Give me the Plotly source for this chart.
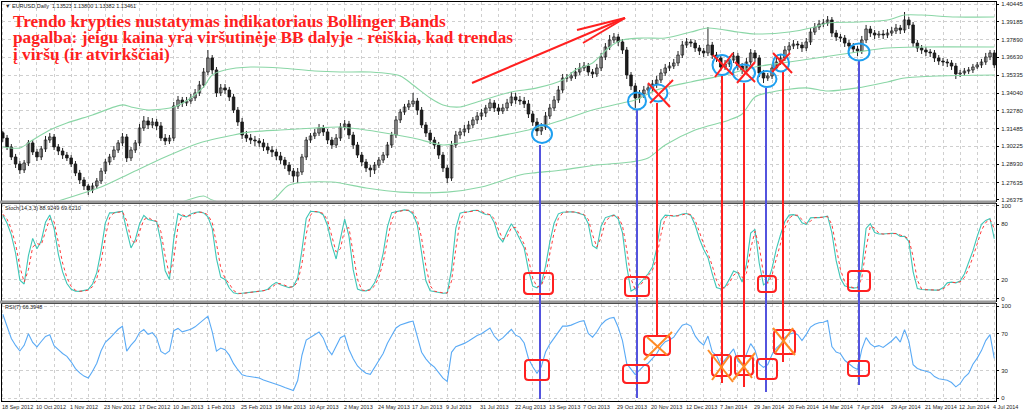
import numpy as np
import pandas as pd
import plotly.graph_objects as go

W, H = 1024, 413

# ---------------- data (2-trading-day bars, EURUSD) ----------------
DATE_LABELS = ["18 Sep 2012", "10 Oct 2012", "1 Nov 2012", "23 Nov 2012", "17 Dec 2012",
               "10 Jan 2013", "1 Feb 2013", "25 Feb 2013", "19 Mar 2013", "10 Apr 2013",
               "2 May 2013", "24 May 2013", "17 Jun 2013", "9 Jul 2013", "31 Jul 2013",
               "22 Aug 2013", "13 Sep 2013", "7 Oct 2013", "29 Oct 2013", "20 Nov 2013",
               "12 Dec 2013", "7 Jan 2014", "29 Jan 2014", "20 Feb 2014", "14 Mar 2014",
               "7 Apr 2014", "29 Apr 2014", "21 May 2014", "12 Jun 2014", "4 Jul 2014"]
BARS_PER_LABEL = 8

PRICE_TICKS = [1.40445, 1.39185, 1.37890, 1.36630, 1.35335, 1.34040,
               1.32780, 1.31485, 1.30225, 1.28930, 1.27635, 1.26375]
STOCH_TICKS = [0, 20, 80, 100]
RSI_TICKS = [0, 30, 70, 100]

# warm-up bars before the visible window (needed by the oscillators)
PRE_OPEN = 1.2560
PRE_CLOSE = [1.2530, 1.2580, 1.2600, 1.2800, 1.2860, 1.2950, 1.3120]
PRE_HIGH = [1.2570, 1.2620, 1.2640, 1.2820, 1.2900, 1.3000, 1.3170]
PRE_LOW = [1.2480, 1.2520, 1.2560, 1.2590, 1.2780, 1.2850, 1.2940]

CLOSE = [
    1.3082, 1.3018, 1.2946, 1.2896, 1.2853, 1.2903, 1.3047, 1.2982, 1.2946, 1.3004,
    1.3068, 1.3090, 1.3018, 1.2989, 1.2960, 1.2939, 1.2896, 1.2831, 1.2781, 1.2738,
    1.2709, 1.2738, 1.2774, 1.2845, 1.2910, 1.2946, 1.2996, 1.3047, 1.3090, 1.2939,
    1.2996, 1.3047, 1.3154, 1.3205, 1.3176, 1.3197, 1.3169, 1.3082, 1.3061, 1.3082,
    1.3312, 1.3355, 1.3334, 1.3348, 1.3370, 1.3406, 1.3463, 1.3556, 1.3657, 1.3571,
    1.3406, 1.3442, 1.3427, 1.3377, 1.3283, 1.3197, 1.3104, 1.3082, 1.3068, 1.3061,
    1.3047, 1.3018, 1.2996, 1.2982, 1.2953, 1.2924, 1.2888, 1.2845, 1.2809, 1.2838,
    1.2946, 1.3068, 1.3097, 1.3118, 1.3154, 1.3126, 1.3068, 1.3032, 1.3082, 1.3161,
    1.3183, 1.3104, 1.3032, 1.2960, 1.2910, 1.2867, 1.2853, 1.2888, 1.2924, 1.2960,
    1.3032, 1.3104, 1.3212, 1.3269, 1.3305, 1.3327, 1.3348, 1.3283, 1.3176, 1.3118,
    1.3068, 1.3032, 1.2960, 1.2867, 1.2795, 1.3032, 1.3104, 1.3126, 1.3147, 1.3176,
    1.3212, 1.3240, 1.3262, 1.3298, 1.3334, 1.3298, 1.3276, 1.3298, 1.3334, 1.3377,
    1.3355, 1.3348, 1.3327, 1.3255, 1.3197, 1.3133, 1.3161, 1.3240, 1.3298, 1.3355,
    1.3427, 1.3513, 1.3513, 1.3528, 1.3556, 1.3585, 1.3599, 1.3556, 1.3542, 1.3585,
    1.3664, 1.3736, 1.3786, 1.3808, 1.3772, 1.3714, 1.3535, 1.3456, 1.3370, 1.3399,
    1.3427, 1.3442, 1.3470, 1.3499, 1.3549, 1.3585, 1.3599, 1.3621, 1.3678, 1.3750,
    1.3772, 1.3764, 1.3729, 1.3707, 1.3693, 1.3750, 1.3678, 1.3657, 1.3592, 1.3614,
    1.3642, 1.3671, 1.3599, 1.3571, 1.3628, 1.3693, 1.3657, 1.3549, 1.3513, 1.3528,
    1.3585, 1.3628, 1.3657, 1.3714, 1.3743, 1.3757, 1.3750, 1.3729, 1.3772, 1.3843,
    1.3879, 1.3901, 1.3908, 1.3930, 1.3836, 1.3808, 1.3800, 1.3764, 1.3743, 1.3721,
    1.3707, 1.3786, 1.3865, 1.3836, 1.3822, 1.3829, 1.3822, 1.3836, 1.3851, 1.3872,
    1.3858, 1.3930, 1.3894, 1.3764, 1.3729, 1.3714, 1.3700, 1.3693, 1.3657, 1.3635,
    1.3628, 1.3621, 1.3599, 1.3542, 1.3549, 1.3563, 1.3571, 1.3592, 1.3607, 1.3628,
    1.3664, 1.3693, 1.3607]

HIGH = [
    1.3133, 1.3104, 1.3039, 1.2968, 1.2917, 1.2924, 1.3068, 1.3068, 1.3004, 1.3025,
    1.3097, 1.3118, 1.3111, 1.3039, 1.3011, 1.2982, 1.2960, 1.2917, 1.2853, 1.2802,
    1.2752, 1.2759, 1.2795, 1.2867, 1.2932, 1.2968, 1.3025, 1.3068, 1.3118, 1.3111,
    1.3018, 1.3068, 1.3183, 1.3240, 1.3233, 1.3226, 1.3219, 1.3197, 1.3111, 1.3104,
    1.3341, 1.3384, 1.3377, 1.3377, 1.3399, 1.3434, 1.3492, 1.3585, 1.3714, 1.3678,
    1.3592, 1.3470, 1.3470, 1.3449, 1.3399, 1.3305, 1.3226, 1.3133, 1.3111, 1.3097,
    1.3082, 1.3075, 1.3047, 1.3025, 1.3004, 1.2982, 1.2946, 1.2910, 1.2867, 1.2867,
    1.2968, 1.3090, 1.3118, 1.3147, 1.3183, 1.3176, 1.3147, 1.3090, 1.3111, 1.3190,
    1.3212, 1.3205, 1.3126, 1.3054, 1.2982, 1.2932, 1.2888, 1.2910, 1.2946, 1.2982,
    1.3054, 1.3126, 1.3240, 1.3291, 1.3327, 1.3355, 1.3406, 1.3370, 1.3305, 1.3197,
    1.3140, 1.3090, 1.3054, 1.2982, 1.2888, 1.3061, 1.3133, 1.3154, 1.3176, 1.3205,
    1.3233, 1.3269, 1.3291, 1.3320, 1.3363, 1.3355, 1.3327, 1.3327, 1.3363, 1.3413,
    1.3406, 1.3384, 1.3377, 1.3355, 1.3276, 1.3226, 1.3190, 1.3269, 1.3327, 1.3384,
    1.3456, 1.3542, 1.3542, 1.3556, 1.3585, 1.3621, 1.3628, 1.3621, 1.3578, 1.3614,
    1.3693, 1.3764, 1.3822, 1.3836, 1.3829, 1.3793, 1.3736, 1.3556, 1.3477, 1.3427,
    1.3456, 1.3470, 1.3499, 1.3528, 1.3578, 1.3614, 1.3628, 1.3650, 1.3707, 1.3779,
    1.3800, 1.3793, 1.3786, 1.3750, 1.3729, 1.3879, 1.3772, 1.3700, 1.3678, 1.3642,
    1.3671, 1.3700, 1.3693, 1.3621, 1.3657, 1.3721, 1.3714, 1.3678, 1.3571, 1.3549,
    1.3614, 1.3657, 1.3686, 1.3743, 1.3772, 1.3786, 1.3779, 1.3772, 1.3800, 1.3872,
    1.3908, 1.3930, 1.3937, 1.3958, 1.3951, 1.3858, 1.3829, 1.3822, 1.3786, 1.3764,
    1.3743, 1.3815, 1.3894, 1.3887, 1.3858, 1.3851, 1.3858, 1.3865, 1.3879, 1.3901,
    1.3894, 1.3987, 1.3951, 1.3915, 1.3786, 1.3750, 1.3736, 1.3721, 1.3714, 1.3678,
    1.3657, 1.3650, 1.3642, 1.3621, 1.3571, 1.3585, 1.3592, 1.3614, 1.3628, 1.3650,
    1.3693, 1.3714, 1.3714]

LOW = [
    1.3054, 1.2996, 1.2924, 1.2867, 1.2824, 1.2831, 1.2881, 1.2960, 1.2917, 1.2924,
    1.2982, 1.3047, 1.2996, 1.2960, 1.2932, 1.2917, 1.2874, 1.2809, 1.2752, 1.2709,
    1.2673, 1.2687, 1.2716, 1.2752, 1.2824, 1.2888, 1.2924, 1.2975, 1.3025, 1.2910,
    1.2917, 1.2975, 1.3025, 1.3133, 1.3147, 1.3154, 1.3140, 1.3061, 1.3032, 1.3039,
    1.3061, 1.3291, 1.3305, 1.3312, 1.3327, 1.3348, 1.3384, 1.3442, 1.3535, 1.3542,
    1.3377, 1.3384, 1.3399, 1.3348, 1.3262, 1.3169, 1.3075, 1.3054, 1.3039, 1.3025,
    1.3018, 1.2989, 1.2968, 1.2946, 1.2924, 1.2896, 1.2860, 1.2817, 1.2766, 1.2759,
    1.2817, 1.2924, 1.3047, 1.3075, 1.3097, 1.3097, 1.3039, 1.3004, 1.3011, 1.3061,
    1.3140, 1.3075, 1.3004, 1.2939, 1.2881, 1.2838, 1.2802, 1.2824, 1.2867, 1.2903,
    1.2939, 1.3011, 1.3082, 1.3190, 1.3248, 1.3283, 1.3305, 1.3248, 1.3154, 1.3090,
    1.3039, 1.3004, 1.2932, 1.2838, 1.2759, 1.2774, 1.3011, 1.3075, 1.3097, 1.3118,
    1.3154, 1.3183, 1.3212, 1.3233, 1.3276, 1.3269, 1.3248, 1.3255, 1.3276, 1.3312,
    1.3327, 1.3320, 1.3298, 1.3226, 1.3169, 1.3097, 1.3104, 1.3140, 1.3219, 1.3276,
    1.3334, 1.3406, 1.3485, 1.3492, 1.3506, 1.3535, 1.3563, 1.3528, 1.3513, 1.3520,
    1.3563, 1.3642, 1.3714, 1.3764, 1.3743, 1.3686, 1.3506, 1.3427, 1.3298, 1.3334,
    1.3370, 1.3406, 1.3413, 1.3442, 1.3477, 1.3528, 1.3563, 1.3578, 1.3599, 1.3657,
    1.3729, 1.3736, 1.3700, 1.3678, 1.3664, 1.3671, 1.3650, 1.3628, 1.3563, 1.3571,
    1.3592, 1.3621, 1.3571, 1.3542, 1.3549, 1.3607, 1.3628, 1.3520, 1.3477, 1.3492,
    1.3506, 1.3563, 1.3607, 1.3635, 1.3693, 1.3721, 1.3721, 1.3700, 1.3707, 1.3750,
    1.3822, 1.3858, 1.3879, 1.3887, 1.3808, 1.3779, 1.3772, 1.3736, 1.3714, 1.3693,
    1.3671, 1.3686, 1.3764, 1.3808, 1.3793, 1.3800, 1.3793, 1.3800, 1.3815, 1.3829,
    1.3829, 1.3836, 1.3865, 1.3736, 1.3700, 1.3686, 1.3671, 1.3664, 1.3628, 1.3607,
    1.3599, 1.3592, 1.3571, 1.3506, 1.3520, 1.3528, 1.3542, 1.3549, 1.3578, 1.3585,
    1.3607, 1.3642, 1.3585]

# Bollinger Bands (bar index, value)
BB_UP_IDX = [0, 4, 7, 11, 15, 21, 28, 30, 34, 40, 44, 47, 49, 52, 58, 65, 73, 79, 86, 93,
             96, 100, 103, 107, 111, 119, 125, 131, 134, 138, 142, 145, 150, 155, 161, 165,
             172, 176, 184, 190, 193, 200, 207, 211, 215, 223, 232]
BB_UP = [1.3018, 1.3011, 1.3068, 1.3140, 1.3190, 1.3248, 1.3320, 1.3305, 1.3283, 1.3305,
         1.3370, 1.3449, 1.3535, 1.3571, 1.3592, 1.3585, 1.3563, 1.3556, 1.3556, 1.3528,
         1.3463, 1.3370, 1.3320, 1.3305, 1.3341, 1.3413, 1.3442, 1.3499, 1.3571, 1.3621,
         1.3736, 1.3786, 1.3800, 1.3800, 1.3843, 1.3872, 1.3843, 1.3829, 1.3843, 1.3879,
         1.3908, 1.3915, 1.3930, 1.3965, 1.3965, 1.3951, 1.3951]
BB_MID_IDX = [13, 23, 30, 38, 46, 54, 58, 65, 73, 79, 88, 96, 103, 107, 115, 123, 131, 138,
              145, 148, 153, 161, 169, 176, 184, 192, 200, 207, 215, 232]
BB_MID = [1.2630, 1.2730, 1.2831, 1.2946, 1.3047, 1.3104, 1.3126, 1.3140, 1.3154, 1.3161,
          1.3126, 1.3082, 1.3032, 1.3047, 1.3090, 1.3140, 1.3212, 1.3283, 1.3334, 1.3355,
          1.3427, 1.3485, 1.3535, 1.3592, 1.3628, 1.3664, 1.3700, 1.3729, 1.3736, 1.3736]
BB_LOW_IDX = [40, 44, 47, 49, 54, 63, 67, 77, 85, 93, 104, 112, 121, 124, 131, 139, 147, 151,
              155, 162, 170, 173, 176, 180, 188, 193, 200, 207, 211, 219, 232]
BB_LOW = [1.2601, 1.2644, 1.2666, 1.2637, 1.2601, 1.2632, 1.2745, 1.2766, 1.2723, 1.2694,
          1.2694, 1.2730, 1.2817, 1.2831, 1.2853, 1.2888, 1.2910, 1.2939, 1.3032, 1.3140,
          1.3212, 1.3255, 1.3377, 1.3413, 1.3442, 1.3420, 1.3442, 1.3485, 1.3513, 1.3528,
          1.3535]

STOCH_K, STOCH_SLOW, STOCH_D = 7, 2, 2   # 14,3,3 on daily bars ~ 7,2,2 on 2-day bars
RSI_N = 7

# ---------------- derived series ----------------
close = np.array(PRE_CLOSE + CLOSE)
high = np.array(PRE_HIGH + HIGH)
low = np.array(PRE_LOW + LOW)
opn = np.concatenate([[PRE_OPEN], close[:-1]])
npre = len(PRE_CLOSE)
n = len(close)
idx = np.arange(len(CLOSE))

num = np.zeros(n)
den = np.zeros(n)
for i in range(n):
    lo = low[max(0, i - STOCH_K + 1):i + 1].min()
    hi = high[max(0, i - STOCH_K + 1):i + 1].max()
    num[i] = close[i] - lo
    den[i] = hi - lo
k = np.array([100 * num[max(0, i - STOCH_SLOW + 1):i + 1].sum() /
              den[max(0, i - STOCH_SLOW + 1):i + 1].sum() for i in range(n)])
d = pd.Series(k).rolling(STOCH_D, min_periods=1).mean().to_numpy()

diff = np.diff(close, prepend=close[0])
gain = pd.Series(np.clip(diff, 0, None)).ewm(alpha=1 / RSI_N, adjust=False).mean()
loss = pd.Series(np.clip(-diff, 0, None)).ewm(alpha=1 / RSI_N, adjust=False).mean()
rsi = (100 - 100 / (1 + gain / loss.replace(0, np.nan))).fillna(100).to_numpy()

o_v, h_v, l_v, c_v = opn[npre:], high[npre:], low[npre:], close[npre:]
up = c_v >= o_v
body_lo = np.minimum(o_v, c_v)
body_h = np.maximum(np.abs(c_v - o_v), 0.00006)

# ---------------- helpers (pixel -> paper) ----------------
def px(x):
    return x / W


def py(y):
    return 1 - y / H


def price_at(y):
    return 1.40732 - 0.000718 * y


# ---------------- figure ----------------
fig = go.Figure()

wx, wy = [], []
for i in idx:
    wx += [i, i, None]
    wy += [l_v[i], h_v[i], None]
fig.add_trace(go.Scatter(x=wx, y=wy, mode="lines", line=dict(color="#222222", width=1),
                         xaxis="x", yaxis="y", hoverinfo="skip"))
fig.add_trace(go.Bar(x=idx[up], y=body_h[up], base=body_lo[up], width=0.6,
                     marker=dict(color="#ffffff", line=dict(color="#222222", width=0.8)),
                     xaxis="x", yaxis="y", hoverinfo="skip"))
fig.add_trace(go.Bar(x=idx[~up], y=body_h[~up], base=body_lo[~up], width=0.6,
                     marker=dict(color="#111111", line=dict(color="#111111", width=0.8)),
                     xaxis="x", yaxis="y", hoverinfo="skip"))

bb_col = "#8ad6a6"
for xs, ys in ((BB_UP_IDX, BB_UP), (BB_MID_IDX, BB_MID), (BB_LOW_IDX, BB_LOW)):
    fig.add_trace(go.Scatter(x=xs, y=ys, mode="lines",
                             line=dict(color=bb_col, width=1.1, shape="spline", smoothing=0.8),
                             xaxis="x", yaxis="y", hoverinfo="skip"))

fig.add_trace(go.Scatter(x=idx, y=k[npre:], mode="lines",
                         line=dict(color="#3ec6b6", width=1.1), xaxis="x2", yaxis="y2"))
fig.add_trace(go.Scatter(x=idx, y=d[npre:], mode="lines",
                         line=dict(color="#ff3a3a", width=1, dash="dot"), xaxis="x2", yaxis="y2"))
fig.add_trace(go.Scatter(x=idx, y=rsi[npre:], mode="lines",
                         line=dict(color="#5aaaf5", width=1.1), xaxis="x3", yaxis="y3"))

x_range = [-0.3, len(CLOSE) - 0.6]
grid_vals = list(range(0, len(CLOSE), 4))
tickfont = dict(family="Liberation Sans", size=6, color="#222222")
xcommon = dict(domain=[px(1.5), px(996)], range=x_range, showticklabels=False,
               tickvals=grid_vals, showgrid=True, gridcolor="#cfcfcf", griddash="dot",
               gridwidth=1, showline=True, mirror=True, linecolor="#000000", linewidth=1,
               zeroline=False, ticks="")
ycommon = dict(side="right", showgrid=True, gridcolor="#cfcfcf", griddash="dot", gridwidth=1,
               showline=True, mirror=True, linecolor="#000000", linewidth=1, zeroline=False,
               ticks="outside", ticklen=2, tickcolor="#000000", tickfont=tickfont,
               ticklabelstandoff=1, automargin=False)

fig.update_layout(
    width=W, height=H, margin=dict(l=0, r=0, t=0, b=0),
    paper_bgcolor="white", plot_bgcolor="white", showlegend=False, barmode="overlay",
    xaxis=dict(xcommon, anchor="y"),
    xaxis2=dict(xcommon, anchor="y2", matches="x"),
    xaxis3=dict(xcommon, anchor="y3", matches="x"),
    yaxis=dict(ycommon, domain=[py(200.5), py(1.5)],
               range=[price_at(200.5), price_at(1.5)],
               tickvals=PRICE_TICKS, ticktext=[f"{v:.5f}" for v in PRICE_TICKS]),
    yaxis2=dict(ycommon, domain=[py(300.5), py(203.5)], range=[-2.15, 102.15],
                tickvals=STOCH_TICKS, ticktext=[str(v) for v in STOCH_TICKS]),
    yaxis3=dict(ycommon, domain=[py(400.5), py(303.5)], range=[-2.72, 102.72],
                tickvals=RSI_TICKS, ticktext=[str(v) for v in RSI_TICKS]),
)

annotations = []
datefont = dict(family="Liberation Sans", size=5.5, color="#222222")
for i, lab in enumerate(DATE_LABELS):
    annotations.append(dict(x=i * BARS_PER_LABEL, xref="x3", y=py(406.5), yref="paper",
                            text=lab, showarrow=False, xanchor="left", yanchor="middle",
                            font=datefont, xshift=-2, borderpad=0))

small = dict(family="Liberation Sans", size=5.5, color="#222222")
annotations += [
    dict(x=px(3), y=py(5.5), xref="paper", yref="paper",
         text="▼ EURUSD,Daily  1.13523 1.13800 1.13382 1.13461",
         showarrow=False, xanchor="left", yanchor="middle", font=small),
    dict(x=px(3), y=py(208), xref="paper", yref="paper", text="Stoch(14,3,3) 88.9249 69.6210",
         showarrow=False, xanchor="left", yanchor="middle", font=small),
    dict(x=px(3), y=py(307), xref="paper", yref="paper", text="RSI(7) 66.3948",
         showarrow=False, xanchor="left", yanchor="middle", font=small),
]

TITLE_LINES = ["Trendo krypties nustatymas indikatoriaus Bollinger Bands",
               "pagalba: jeigu kaina yra viršutinėje BB dalyje - reiškia, kad trendas",
               "į viršų (ir atvirkščiai)"]
title_font = dict(family="Liberation Serif", size=17.3, color="#ff2020")
for line, yc in zip(TITLE_LINES, (21.5, 38, 54.5)):
    annotations.append(dict(x=px(12), y=py(yc), xref="paper", yref="paper",
                            text=f"<b>{line}</b>", showarrow=False, xanchor="left",
                            yanchor="middle", font=title_font, borderpad=0))
fig.update_layout(annotations=annotations)

# ---------------- drawn markup ----------------
RED = "#ff2020"
BLUE_LINE = "#5353de"
CYAN = "#1e9ff0"
ORANGE = "#ff8a24"
shapes = []


def seg(x0, y0, x1, y1, color, width=2):
    shapes.append(dict(type="line", xref="paper", yref="paper", x0=px(x0), y0=py(y0),
                       x1=px(x1), y1=py(y1), line=dict(color=color, width=width),
                       layer="above"))


def ellipse(cx, cy, rx, ry, color=CYAN):
    shapes.append(dict(type="circle", xref="paper", yref="paper", x0=px(cx - rx),
                       x1=px(cx + rx), y0=py(cy + ry), y1=py(cy - ry),
                       line=dict(color=color, width=2), layer="above"))


def rbox(x0, y0, x1, y1, r=3.5, color=RED):
    pts = [("M", x0 + r, y0), ("L", x1 - r, y0), ("Q", x1, y0, x1, y0 + r),
           ("L", x1, y1 - r), ("Q", x1, y1, x1 - r, y1), ("L", x0 + r, y1),
           ("Q", x0, y1, x0, y1 - r), ("L", x0, y0 + r), ("Q", x0, y0, x0 + r, y0)]
    p = ""
    for t in pts:
        coords = t[1:]
        s = []
        for a, b in zip(coords[0::2], coords[1::2]):
            s.append(f"{px(a):.5f},{py(b):.5f}")
        p += t[0] + " " + " ".join(s) + " "
    shapes.append(dict(type="path", xref="paper", yref="paper", path=p + "Z",
                       line=dict(color=color, width=2), layer="above"))


# panel separators
for y0, y1 in ((200.5, 203.5), (300.5, 303.5)):
    shapes.append(dict(type="rect", xref="paper", yref="paper", x0=0, x1=px(996),
                       y0=py(y1), y1=py(y0), fillcolor="#9a9a9a", line=dict(width=0),
                       layer="above"))

# vertical guide lines
for x, y0, y1, c in ((540, 145, 399, BLUE_LINE), (637, 110, 398, BLUE_LINE),
                     (657, 103, 337, RED), (722, 76, 383, RED), (744, 83, 387, RED),
                     (766, 88, 392, BLUE_LINE), (783, 72, 362, RED), (859, 61, 385, BLUE_LINE)):
    seg(x, y0, x, y1, c)

# circles on price
for cx, cy, rx, ry in ((542, 134, 10, 9), (637, 101, 9, 8.5), (658, 93, 9.5, 8.5),
                       (722, 65, 9.5, 10), (744, 73, 11, 8.5), (767, 79, 9.5, 8),
                       (781, 63, 8, 8.5), (859, 52, 10.5, 8.5)):
    ellipse(cx, cy, rx, ry)

# red crosses on price
for a in (((648, 83, 670, 107), (650, 103, 673, 80)),
          ((713, 55, 733, 75), (715, 77, 733, 53)),
          ((735, 62, 755, 82), (737, 83, 755, 62)),
          ((773, 53, 792, 73), (772, 72, 790, 53))):
    for s in a:
        seg(*s, RED)

# boxes in stochastic and RSI panels
for b in ((524, 273, 553, 294), (625, 277, 649, 296), (758, 276, 776, 292), (848, 271, 870, 291),
          (525, 360, 549, 380), (623, 365, 649, 383), (644, 336, 670, 355), (712, 355, 731, 376),
          (735, 356, 753, 375), (757, 359, 777, 379), (774, 330, 795, 354), (848, 361, 869, 376)):
    rbox(*b)

# orange crosses in RSI
for a in (((644, 360, 672, 332), (647, 337, 667, 355)),
          ((708, 350, 733, 382), (712, 380, 730, 355)),
          ((733, 380, 755, 353), (737, 357, 752, 378)),
          ((773, 328, 795, 355), (775, 353, 793, 328))):
    for s in a:
        seg(*s, ORANGE)

# trend arrow
seg(472, 83, 625, 18, RED)
seg(577, 30, 625, 18, RED)
seg(583, 43, 625, 18, RED)

fig.update_layout(shapes=shapes)
fig.write_html("out.html", config={"displayModeBar": False},
               post_script="document.body.style.margin='0';document.body.style.padding='0';")
